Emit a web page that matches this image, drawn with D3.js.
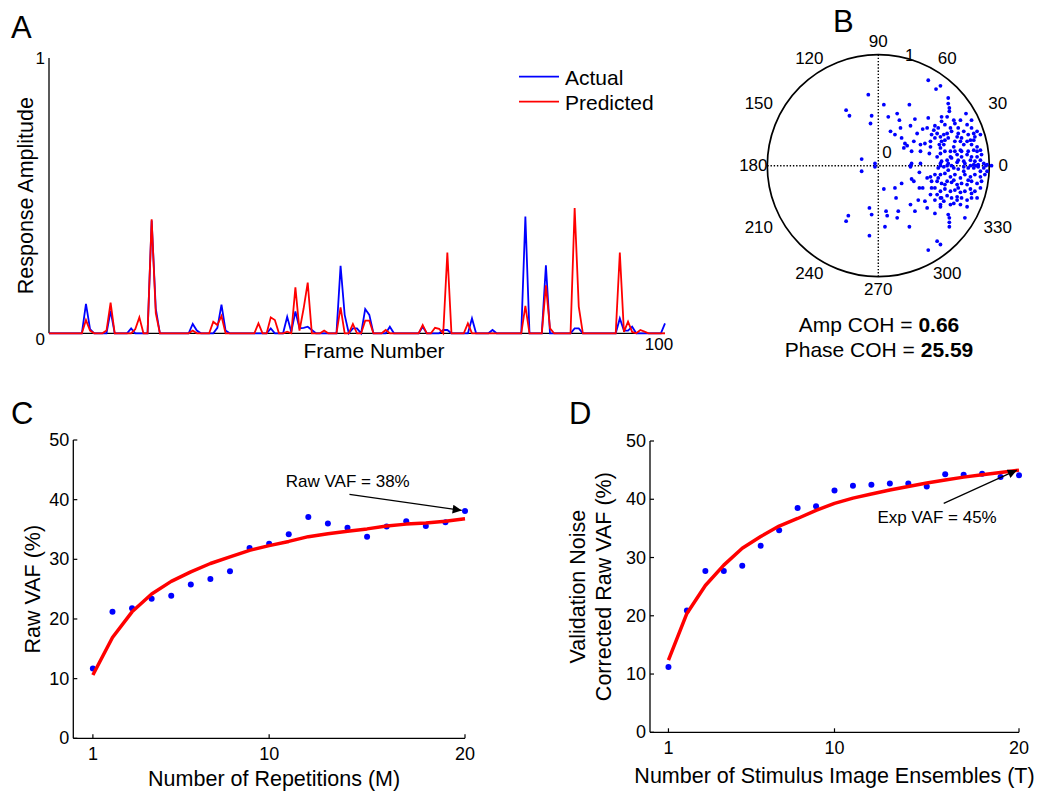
<!DOCTYPE html>
<html><head><meta charset="utf-8">
<script src="https://cdn.jsdelivr.net/npm/d3@7"></script>
<style>
html,body{margin:0;padding:0;background:#fff;}
svg{display:block;font-family:"Liberation Sans",Arial,Helvetica,sans-serif;}
</style></head><body>
<svg id="fig" width="1042" height="792"></svg>
<script>
// ---------- Panel A: response traces (sample index 0..150) ----------
const actual = [
 0,0,0,0,0,0,0,0,0,0.107,
 0.015,0,0,0,0,0.082,0,0,0,0,
 0.018,0,0,0,0,0.41,0.09,0,0,0,
 0,0,0,0,0,0.034,0.01,0,0,0,
 0,0.02,0.104,0.01,0,0,0,0,0,0,
 0,0,0,0,0.018,0,0,0,0.06,0.005,
 0.079,0.018,0.02,0.024,0.012,0,0,0,0,0,
 0,0.245,0.067,0,0.018,0.018,0,0.088,0.067,0,
 0,0,0,0.024,0,0,0,0,0,0,
 0,0.024,0,0,0,0,0.012,0.012,0,0,
 0,0,0,0.054,0,0,0,0,0.012,0,
 0,0,0,0,0,0,0.424,0,0,0,
 0,0.247,0,0,0,0,0,0,0.018,0.018,
 0,0,0,0,0,0,0,0,0,0.054,
 0.01,0.01,0.024,0,0,0,0,0,0,0,
 0.036];
const predicted = [
 0,0,0,0,0,0,0,0,0,0.048,
 0.01,0,0,0,0.01,0.111,0,0,0,0,
 0,0.015,0.058,0,0,0.414,0.073,0,0,0,
 0,0,0,0,0,0.01,0,0,0,0,
 0.042,0.03,0.063,0,0,0,0,0,0,0,
 0,0.036,0,0,0.058,0.048,0,0,0.006,0,
 0.167,0.01,0.09,0.184,0,0,0,0.01,0,0,
 0,0.094,0,0,0.034,0,0,0.046,0.046,0,
 0,0,0.012,0,0,0,0,0,0,0,
 0,0.03,0,0,0.02,0.016,0,0.293,0,0,
 0,0,0.036,0,0,0,0,0,0,0,
 0,0,0,0,0,0,0.1,0,0,0,
 0,0.174,0.018,0,0,0,0,0,0.455,0.097,
 0,0,0,0,0,0,0,0,0,0.293,
 0.005,0.042,0.005,0,0.012,0.006,0,0,0,0,
 0];
const traceNames = ["Actual","Predicted"];
const traceYTicks = ["0","1"];
const traceXTick = "100";

// ---------- Panel B: complex responses (real, imaginary) ----------
const cohRe = [0.45,0.56,0.52,-0.09,-0.29,-0.26,0.05,0.28,-0.06,-0.07,0.09,0.17,0.19,0.33,0.45,0.63,0.63,0.64,0.64,0.62,0.57,0.44,0.40,0.29,0.20,0.11,0.15,0.21,0.24,0.23,0.26,0.32,0.35,0.38,0.42,0.47,0.46,0.38,0.30,-0.15,-0.03,0.30,0.38,
 0.51,0.54,0.53,0.56,0.51,0.57,0.55,0.59,0.62,0.63,0.65,0.69,0.68,0.72,0.71,0.74,0.77,0.80,0.79,0.84,0.86,0.87,0.89,0.92,0.80,0.83,0.84,0.89,0.92,0.86,0.81,0.74,0.69,0.71,0.75,0.80,0.84,0.89,0.93,0.68,0.65,0.60,0.56,0.53,0.57,0.62,0.66,0.72,0.77,0.83,0.87,0.92,0.95,0.56,0.63,0.71,0.78,0.86,0.90,0.98,0.57,0.60,0.48,0.47,0.74,0.60,0.69,0.84,0.75,
 -0.15,-0.03,0.29,0.37,0.30,0.32,0.21,0.15,0.05,0.16,0.29,0.36,0.40,0.37,0.47,0.48,0.42,0.44,0.51,0.56,0.63,0.64,0.64,0.64,0.78,-0.08,-0.06,0.07,0.08,0.17,0.18,0.28,0.06,-0.08,-0.27,-0.29,0.53,0.56,0.45,0.33,
 0.54,0.59,0.63,0.68,0.72,0.77,0.81,0.86,0.90,0.95,0.56,0.60,0.65,0.69,0.74,0.78,0.83,0.87,0.92,0.96,0.53,0.57,0.62,0.66,0.71,0.75,0.80,0.84,0.89,0.93,0.51,0.56,0.60,0.65,0.69,0.74,0.78,0.83,0.87,0.53,0.57,0.62,0.66,0.71,0.75,0.80,0.84,0.59,0.68,0.74,0.80,0.56,0.51,0.89,0.92,0.98,0.47,0.48,0.44,
 1.02,0.97,0.29,0.56,0.62,0.66,0.83,0.88,
 0.50,0.59,0.66,0.72,0.77,0.81,0.86,0.75,0.65,0.56,0.89,
 0.54,0.68,0.81,0.60,0.72,0.84,0.65,0.71,0.56,0.92,0.77,0.51];
const cohIm = [0.77,0.72,0.69,0.64,0.50,0.45,0.55,0.55,0.45,0.38,0.44,0.47,0.41,0.42,0.43,0.61,0.56,0.52,0.49,0.44,0.44,0.34,0.33,0.36,0.34,0.31,0.28,0.25,0.20,0.16,0.18,0.22,0.29,0.19,0.20,0.22,0.11,0.13,0.13,0.06,0.02,0.02,0.02,
 0.36,0.34,0.29,0.26,0.25,0.22,0.19,0.19,0.29,0.25,0.34,0.38,0.41,0.34,0.26,0.22,0.31,0.37,0.47,0.34,0.29,0.26,0.31,0.28,0.22,0.23,0.19,0.17,0.14,0.14,0.13,0.14,0.13,0.10,0.08,0.10,0.08,0.08,0.10,0.17,0.13,0.13,0.11,0.08,0.04,0.05,0.07,0.05,0.04,0.05,0.04,0.05,0.02,0.02,0.02,0.03,0.02,0.01,0.01,0.01,0.40,0.37,0.28,0.17,0.41,0.23,0.22,0.41,0.25,
 -0.05,-0.01,-0.01,-0.06,-0.12,-0.14,-0.16,-0.20,-0.21,-0.29,-0.35,-0.31,-0.20,-0.20,-0.10,-0.20,-0.32,-0.38,-0.43,-0.35,-0.44,-0.47,-0.51,-0.55,-0.47,-0.38,-0.44,-0.41,-0.45,-0.47,-0.41,-0.55,-0.55,-0.63,-0.45,-0.50,-0.68,-0.71,-0.76,-0.41,
 -0.02,-0.01,-0.04,-0.02,-0.03,-0.01,-0.02,-0.02,-0.01,-0.02,-0.08,-0.07,-0.10,-0.08,-0.11,-0.08,-0.10,-0.08,-0.10,-0.08,-0.14,-0.16,-0.14,-0.15,-0.17,-0.16,-0.17,-0.14,-0.16,-0.14,-0.20,-0.23,-0.21,-0.23,-0.22,-0.24,-0.23,-0.21,-0.23,-0.26,-0.29,-0.27,-0.29,-0.28,-0.29,-0.31,-0.29,-0.32,-0.34,-0.35,-0.37,-0.37,-0.31,-0.29,-0.20,-0.05,-0.26,-0.14,-0.11,
 0,0,0,0,0,0,0,0,
 0.32,0.28,0.31,0.29,0.19,0.28,0.23,0.13,0.08,0.16,0.13,
 -0.11,-0.13,-0.13,-0.17,-0.20,-0.25,-0.35,-0.31,-0.29,-0.05,-0.05,-0.08];
const polarAngles = [0,30,60,90,120,150,180,210,240,270,300,330];
const polarRadialLabels = ["0","1"];
const ampCoh = "0.66";
const phaseCoh = "25.59";

// ---------- Panels C & D ----------
const nReps = [1,2,3,4,5,6,7,8,9,10,11,12,13,14,15,16,17,18,19,20];
const rawVAF = [11.7,21.2,21.8,23.4,23.9,25.8,26.7,28.0,31.9,32.6,34.2,37.1,36.0,35.3,33.8,35.5,36.4,35.6,36.2,38.1];
const rawFit = [10.6,16.9,21.2,24.2,26.3,27.9,29.3,30.4,31.5,32.3,33.0,33.8,34.3,34.7,35.1,35.6,35.9,36.1,36.4,36.8];
const corrVAF = [11.2,20.9,27.7,27.7,28.6,32.0,34.7,38.5,38.8,41.5,42.3,42.5,42.7,42.7,42.2,44.3,44.2,44.4,43.8,44.1];
const corrFit = [12.4,20.4,25.2,28.7,31.6,33.6,35.4,36.7,38.1,39.3,40.2,40.9,41.6,42.2,42.8,43.3,43.8,44.2,44.6,45.0];
const xTicksCD = [1,10,20];
const yTicksCD = [0,10,20,30,40,50];

const svg = d3.select("#fig");
const BLUE = "#0000ff", RED = "#ff0000";

svg.append("defs").append("marker")
  .attr("id","arrow").attr("viewBox","0 0 10 10").attr("refX",10).attr("refY",5)
  .attr("markerWidth",13).attr("markerHeight",9).attr("markerUnits","userSpaceOnUse")
  .attr("orient","auto")
  .append("path").attr("d","M0,0 L10,5 L0,10 Z").attr("fill","#000");

// panel letters
const letters = [["A",11,38],["B",833,32],["C",11,424],["D",569,424]];
svg.selectAll("text.letter").data(letters).join("text").attr("class","letter")
  .attr("x",d=>d[1]).attr("y",d=>d[2]).attr("font-size",31).text(d=>d[0]);

// ===== Panel A =====
{
  const x = d3.scaleLinear().domain([0,150]).range([49,665]);
  const y = d3.scaleLinear().domain([0,1]).range([333.3,58]);
  const g = svg.append("g");
  g.append("line").attr("x1",x(0)).attr("x2",x(150)).attr("y1",y(0)).attr("y2",y(0)).attr("stroke","#000").attr("stroke-width",1.3);
  g.append("line").attr("x1",x(0)).attr("x2",x(0)).attr("y1",y(0)).attr("y2",y(1)).attr("stroke","#000").attr("stroke-width",1.3);
  const line = d3.line().x((d,i)=>x(i)).y(d=>y(d));
  g.append("path").datum(actual).attr("d",line).attr("fill","none").attr("stroke",BLUE).attr("stroke-width",1.8);
  g.append("path").datum(predicted).attr("d",line).attr("fill","none").attr("stroke",RED).attr("stroke-width",1.8);
  g.append("text").attr("x",45).attr("y",y(1)+6).attr("text-anchor","end").attr("font-size",17).text(traceYTicks[1]);
  g.append("text").attr("x",45).attr("y",y(0)+12).attr("text-anchor","end").attr("font-size",17).text(traceYTicks[0]);
  g.append("text").attr("x",x(150)-6).attr("y",350).attr("text-anchor","middle").attr("font-size",17).text(traceXTick);
  g.append("text").attr("x",374).attr("y",358).attr("text-anchor","middle").attr("font-size",21).text("Frame Number");
  g.append("text").attr("transform",`translate(33,${(y(0)+y(1))/2}) rotate(-90)`).attr("text-anchor","middle").attr("font-size",21.5).text("Response Amplitude");
  const leg = g.selectAll("g.leg").data(traceNames).join("g").attr("class","leg")
    .attr("transform",(d,i)=>`translate(519,${76.7+i*25})`);
  leg.append("line").attr("x1",0).attr("x2",40).attr("stroke",(d,i)=>i?RED:BLUE).attr("stroke-width",1.8);
  leg.append("text").attr("x",46).attr("y",8).attr("font-size",21).text(d=>d);
}

// ===== Panel B =====
{
  const cx = 878.3, cy = 165.7, R = 111;
  const x = d3.scaleLinear().domain([-1,1]).range([cx-R,cx+R]);
  const y = d3.scaleLinear().domain([-1,1]).range([cy+R,cy-R]);
  const g = svg.append("g");
  g.append("line").attr("x1",x(-1)).attr("x2",x(1)).attr("y1",y(0)).attr("y2",y(0))
    .attr("stroke","#000").attr("stroke-width",1.4).attr("stroke-dasharray","1.4,1.8");
  g.append("line").attr("x1",x(0)).attr("x2",x(0)).attr("y1",y(-1)).attr("y2",y(1))
    .attr("stroke","#000").attr("stroke-width",1.4).attr("stroke-dasharray","1.4,1.8");
  g.append("circle").attr("cx",x(0)).attr("cy",y(0)).attr("r",x(1)-x(0)).attr("fill","none").attr("stroke","#000").attr("stroke-width",1.7);
  g.selectAll("circle.pt").data(cohRe.map((r,i)=>[r,cohIm[i]])).join("circle").attr("class","pt")
    .attr("cx",d=>x(d[0])).attr("cy",d=>y(d[1])).attr("r",1.9).attr("fill",BLUE);
  g.selectAll("text.ang").data(polarAngles).join("text").attr("class","ang")
    .attr("x",a=>{const t=a*Math.PI/180; return x(Math.cos(t)*(1.126+0.135*Math.abs(Math.sin(2*t))));})
    .attr("y",a=>{const t=a*Math.PI/180; return y(Math.sin(t)*1.117);})
    .attr("text-anchor","middle").attr("dominant-baseline","central").attr("font-size",17).text(a=>a);
  g.append("text").attr("x",x(0.035)).attr("y",y(0.07)).attr("font-size",17).text(polarRadialLabels[0]);
  const t1 = 74*Math.PI/180;
  g.append("text").attr("x",x(Math.cos(t1)*1.03)).attr("y",y(Math.sin(t1)*1.03)).attr("text-anchor","middle")
    .attr("dominant-baseline","central").attr("font-size",17).text(polarRadialLabels[1]);
  const t = g.append("text").attr("x",879).attr("y",331.7).attr("text-anchor","middle").attr("font-size",21);
  t.append("tspan").text("Amp COH = ");
  t.append("tspan").attr("font-weight","bold").text(ampCoh);
  const t2 = g.append("text").attr("x",879).attr("y",357).attr("text-anchor","middle").attr("font-size",21);
  t2.append("tspan").text("Phase COH = ");
  t2.append("tspan").attr("font-weight","bold").text(phaseCoh);
}

// ===== Panels C & D =====
function vafPanel(o){
  const x = d3.scaleLinear().domain([0,20]).range([o.x0,o.x1]);
  const y = d3.scaleLinear().domain([0,50]).range([o.y0,o.y1]);
  const g = svg.append("g");
  g.append("line").attr("x1",x(0)).attr("x2",x(20)).attr("y1",y(0)).attr("y2",y(0)).attr("stroke","#000").attr("stroke-width",1.3);
  g.append("line").attr("x1",x(0)).attr("x2",x(0)).attr("y1",y(0)).attr("y2",y(50)).attr("stroke","#000").attr("stroke-width",1.3);
  g.selectAll("line.yt").data(yTicksCD).join("line").attr("class","yt")
    .attr("x1",x(0)).attr("x2",x(0)+4).attr("y1",d=>y(d)).attr("y2",d=>y(d)).attr("stroke","#000").attr("stroke-width",1.2);
  g.selectAll("line.xt").data(xTicksCD).join("line").attr("class","xt")
    .attr("x1",d=>x(d)).attr("x2",d=>x(d)).attr("y1",y(0)).attr("y2",y(0)-4).attr("stroke","#000").attr("stroke-width",1.2);
  g.selectAll("text.yl").data(yTicksCD).join("text").attr("class","yl")
    .attr("x",x(0)-4).attr("y",d=>y(d)).attr("text-anchor","end").attr("dominant-baseline","central").attr("font-size",18).text(d=>d);
  g.selectAll("text.xl").data(xTicksCD).join("text").attr("class","xl")
    .attr("x",d=>x(d)).attr("y",y(0)+21.5).attr("text-anchor","middle").attr("font-size",18).text(d=>d);
  const line = d3.line().x((d,i)=>x(nReps[i])).y(d=>y(d));
  g.selectAll("circle.pt").data(o.pts).join("circle").attr("class","pt")
    .attr("cx",(d,i)=>x(nReps[i])).attr("cy",d=>y(d)).attr("r",3).attr("fill",BLUE);
  g.append("path").datum(o.fit).attr("d",line).attr("fill","none").attr("stroke",RED).attr("stroke-width",3.5).attr("stroke-linejoin","round");
  g.append("line").attr("x1",x(o.arrow[0])).attr("y1",y(o.arrow[1])).attr("x2",x(o.arrow[2])).attr("y2",y(o.arrow[3]))
    .attr("stroke","#000").attr("stroke-width",1.2).attr("marker-end","url(#arrow)");
  g.append("text").attr("x",x(o.note[0])).attr("y",y(o.note[1])).attr("font-size",17).text(o.note[2]);
  g.append("text").attr("x",(x(0)+x(20))/2+o.xlabDx).attr("y",o.xlabY).attr("text-anchor","middle").attr("font-size",21.5).text(o.xlab);
  o.ylab.forEach((s,i)=>{
    g.append("text").attr("transform",`translate(${o.ylabX[i]},${(y(0)+y(50))/2}) rotate(-90)`)
      .attr("text-anchor","middle").attr("font-size",21.5).text(s);
  });
}
vafPanel({x0:73.3,x1:465,y0:738.3,y1:440,pts:rawVAF,fit:rawFit,
  arrow:[14.1,40.9,19.83,38.2],note:[10.85,42.1,"Raw VAF = 38%"],
  xlab:"Number of Repetitions (M)",xlabY:786,xlabDx:5,ylab:["Raw VAF (%)"],ylabX:[40]});
vafPanel({x0:650,x1:1019,y0:732.3,y1:441,pts:corrVAF,fit:corrFit,
  arrow:[15.92,39.3,19.88,45.0],note:[12.33,35.9,"Exp VAF = 45%"],
  xlab:"Number of Stimulus Image Ensembles (T)",xlabY:783,xlabDx:0,ylab:["Validation Noise","Corrected Raw VAF (%)"],ylabX:[585,611]});
</script>
</body></html>
